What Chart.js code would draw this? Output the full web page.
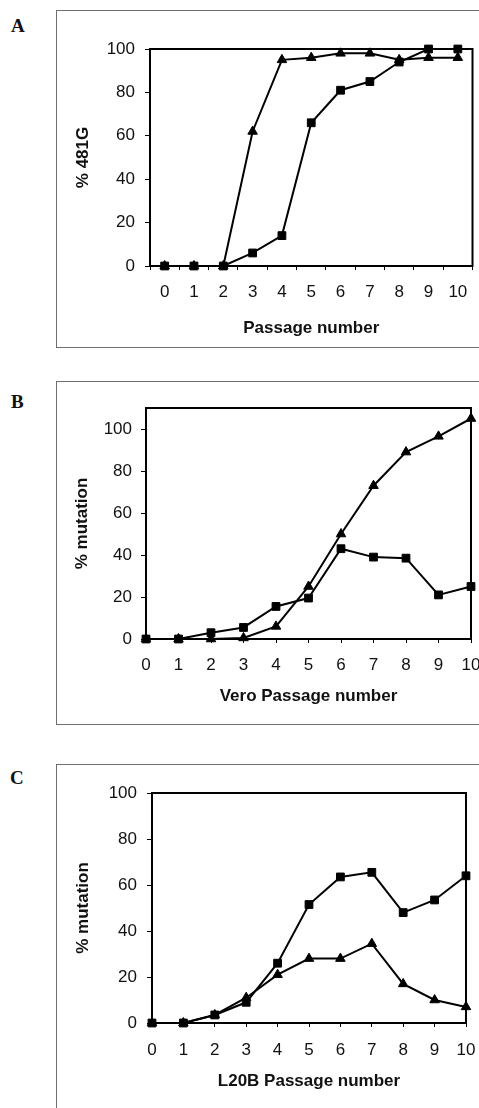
<!DOCTYPE html>
<html>
<head>
<meta charset="utf-8">
<script src="https://cdn.jsdelivr.net/npm/chart.js@4.4.1/dist/chart.umd.min.js"></script>
<style>
    html, body { margin: 0; padding: 0; background: #fff; overflow: hidden; }
    body { width: 479px; height: 1108px; position: relative; }
    .box { position: absolute; border: 1px solid #6e6e6e; box-sizing: border-box; }
    .wrap { position: absolute; }
    .letter { position: absolute; font-family: 'Liberation Serif', serif; font-weight: bold; font-size: 19px; line-height: 19px; color: #111; }
</style>
</head>
<body>
<div class="letter" style="left:11px; top:16px;">A</div>
<div class="letter" style="left:11px; top:392px;">B</div>
<div class="letter" style="left:10px; top:768px;">C</div>

<div class="box" style="left:56px; top:10px; width:440px; height:338px;"></div>
<div class="box" style="left:56px; top:381px; width:440px; height:344px;"></div>
<div class="box" style="left:56px; top:764px; width:440px; height:360px;"></div>

<div class="wrap" style="left:56px; top:10px; width:423px; height:337px;"><canvas id="chartA"></canvas></div>
<div class="wrap" style="left:56px; top:381px; width:423px; height:343px;"><canvas id="chartB"></canvas></div>
<div class="wrap" style="left:56px; top:764px; width:423px; height:344px;"><canvas id="chartC"></canvas></div>

<script>
// Datos (pases 0-10)
const passages = ['0', '1', '2', '3', '4', '5', '6', '7', '8', '9', '10'];
const yTicks = [0, 20, 40, 60, 80, 100];

const aSquare   = [0, 0, 0, 6, 14, 66, 81, 85, 94, 100, 100];
const aTriangle = [0, 0, 0, 62, 95, 96, 98, 98, 95, 96, 96];

const bSquare   = [0, 0, 3, 5.5, 15.5, 19.5, 43, 39, 38.5, 21, 25];
const bTriangle = [0, 0, 0, 0.5, 6, 25, 50, 73, 89, 96.5, 105];

const cSquare   = [0, 0, 3.5, 9, 26, 51.5, 63.5, 65.5, 48, 53.5, 64];
const cTriangle = [0, 0, 3.5, 11, 21, 28, 28, 34.5, 17, 10, 7];

Chart.defaults.font.family = "'Liberation Sans', Arial, sans-serif";
Chart.defaults.font.size = 17;
Chart.defaults.color = '#111';

if (!window.charts) {
    window.charts = {};
}

// marco negro alrededor del area de trazado
const plotFrame = {
    id: 'plotFrame',
    beforeDatasetsDraw(chart) {
        const { ctx, chartArea: a } = chart;
        ctx.save();
        ctx.strokeStyle = '#000';
        ctx.lineWidth = 2;
        ctx.strokeRect(a.left, a.top, a.right - a.left, a.bottom - a.top);
        ctx.restore();
    }
};

function series(data, style) {
    return {
        data: data,
        borderColor: '#000',
        backgroundColor: '#000',
        borderWidth: 2,
        pointStyle: style,
        pointRadius: 5.5,
        pointBorderWidth: 1,
        pointBackgroundColor: '#000',
        tension: 0,
        clip: false
    };
}

/**
 * Crea un panel con el area de trazado fijada en pixeles del canvas.
 */
function createPanel(canvasId, opts) {
    const ctx = document.getElementById(canvasId).getContext('2d');

    if (window.charts[canvasId] instanceof Chart) {
        window.charts[canvasId].destroy();
    }

    window.charts[canvasId] = new Chart(ctx, {
        type: 'line',
        data: {
            labels: passages,
            datasets: [series(opts.square, 'rect'), series(opts.triangle, 'triangle')]
        },
        options: {
            responsive: true,
            maintainAspectRatio: false,
            animation: false,
            layout: {
                padding: { top: opts.area.top, right: opts.width - opts.area.right, left: 0, bottom: 0 }
            },
            scales: {
                x: {
                    type: 'category',
                    offset: opts.offset,
                    grid: { offset: opts.offset, drawOnChartArea: false, tickLength: 4, color: '#000' },
                    border: { display: false },
                    ticks: { padding: opts.xTickPad, autoSkip: false, maxRotation: 0 },
                    title: {
                        display: true,
                        text: opts.xTitle,
                        font: { weight: 'bold' },
                        padding: { top: 0, bottom: opts.xTitlePad }
                    },
                    afterFit: (s) => {
                        s.height = opts.height - opts.area.bottom;
                        s.paddingLeft = 0;
                        s.paddingRight = 0;
                    }
                },
                y: {
                    min: 0,
                    max: opts.yMax,
                    grid: { drawOnChartArea: false, tickLength: 5, color: '#000' },
                    border: { display: false },
                    ticks: { padding: opts.yTickPad },
                    afterBuildTicks: (s) => {
                        s.ticks = yTicks.map(v => ({ value: v }));
                    },
                    title: {
                        display: true,
                        text: opts.yTitle,
                        font: { weight: 'bold' },
                        padding: { top: opts.yTitlePad, bottom: 0 }
                    },
                    afterFit: (s) => {
                        s.width = opts.area.left;
                        s.paddingTop = 0;
                        s.paddingBottom = 0;
                    }
                }
            },
            plugins: {
                legend: { display: false },
                title: { display: false },
                tooltip: { enabled: false }
            }
        },
        plugins: [plotFrame]
    });

    return window.charts[canvasId];
}

createPanel('chartA', {
    square: aSquare, triangle: aTriangle,
    width: 423, height: 337,
    area: { left: 94, top: 39, right: 422, bottom: 256 },
    yMax: 100, offset: true,
    xTitle: 'Passage number', yTitle: '% 481G',
    xTickPad: 12, xTitlePad: 8, yTickPad: 10, yTitlePad: 17
});

createPanel('chartB', {
    square: bSquare, triangle: bTriangle,
    width: 423, height: 343,
    area: { left: 90, top: 27, right: 415, bottom: 258 },
    yMax: 110, offset: false,
    xTitle: 'Vero Passage number', yTitle: '% mutation',
    xTickPad: 12, xTitlePad: 17, yTickPad: 9, yTitlePad: 16
});

createPanel('chartC', {
    square: cSquare, triangle: cTriangle,
    width: 423, height: 344,
    area: { left: 96, top: 29, right: 410, bottom: 259 },
    yMax: 100, offset: false,
    xTitle: 'L20B Passage number', yTitle: '% mutation',
    xTickPad: 13, xTitlePad: 16, yTickPad: 10, yTitlePad: 17
});
</script>
</body>
</html>
